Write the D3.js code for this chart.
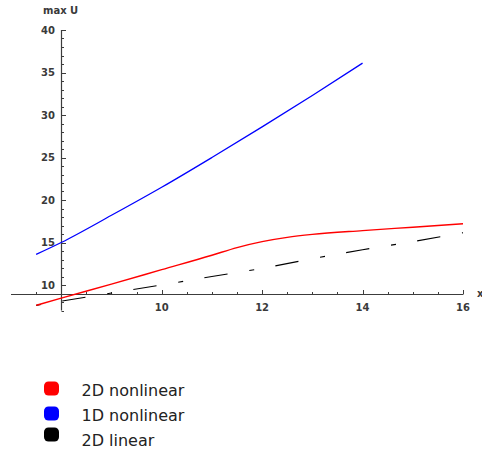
<!DOCTYPE html>
<html>
<head>
<meta charset="utf-8">
<script src="https://cdn.jsdelivr.net/npm/d3@7"></script>
<style>
  html, body { margin: 0; padding: 0; background: #fff; overflow: hidden; }
  svg { display: block; }
  .tick-label { font-family: "DejaVu Sans", sans-serif; font-weight: bold; font-size: 10px; fill: #3a3a3a; }
  .legend-label { font-family: "DejaVu Sans", sans-serif; font-size: 16px; fill: #222; }
</style>
</head>
<body>
<script>
// Series: maximum of U against x
const xNonlinear2D = [7.5, 8, 9, 10, 11, 11.5, 12, 12.5, 13, 14, 15, 16];
const uNonlinear2D = [7.6, 8.45, 10.1, 11.8, 13.5, 14.4, 15.1, 15.6, 15.95, 16.4, 16.8, 17.2];

const xNonlinear1D = [7.5, 8, 9, 10, 11, 12, 13, 14];
const uNonlinear1D = [13.6, 15.0, 18.2, 21.5, 25.0, 28.6, 32.3, 36.1];

const xLinear2D = [7.5, 8, 9, 10, 11, 12, 13, 14, 15, 16];
const uLinear2D = [7.6, 8.1, 9.05, 10.0, 11.0, 11.95, 13.1, 14.15, 15.1, 16.15];

// Axis ticks
const xTickLabels = [10, 12, 14, 16];
const yTickLabels = [10, 15, 20, 25, 30, 35, 40];

const legendNames = ["2D nonlinear", "1D nonlinear", "2D linear"];
const legendColors = ["#ff0000", "#0000ff", "#000000"];

const W = 482, H = 453;
const svg = d3.select("body").append("svg").attr("width", W).attr("height", H);

const x = d3.scaleLinear().domain([7, 16]).range([11, 463]);
const y = d3.scaleLinear().domain([7, 40]).range([310.5, 30]);

const axisX = 8, axisY = 9;
const axisColor = "#3c3c3c";

// x axis line
svg.append("line")
  .attr("x1", x(7)).attr("x2", x(16))
  .attr("y1", Math.round(y(axisY)) + 0.5).attr("y2", Math.round(y(axisY)) + 0.5)
  .attr("stroke", axisColor).attr("stroke-width", 1.2);

// y axis line
svg.append("line")
  .attr("x1", Math.round(x(axisX)) + 0.5).attr("x2", Math.round(x(axisX)) + 0.5)
  .attr("y1", y(7)).attr("y2", y(40))
  .attr("stroke", axisColor).attr("stroke-width", 1.2);

// x ticks (pointing up into the plot)
const xAxisPix = Math.round(y(axisY)) + 0.5;
d3.range(7.5, 16.01, 0.5).forEach(v => {
  if (Math.abs(v - axisX) < 1e-9) return;
  const major = Math.abs(v % 2) < 1e-9;
  const px = Math.round(x(v)) + 0.5;
  svg.append("line")
    .attr("x1", px).attr("x2", px)
    .attr("y1", xAxisPix).attr("y2", xAxisPix - (major ? 4.5 : 2.5))
    .attr("stroke", axisColor).attr("stroke-width", 1);
});
svg.selectAll("text.xl").data(xTickLabels).enter().append("text")
  .attr("class", "tick-label")
  .attr("x", d => x(d)).attr("y", 311)
  .attr("text-anchor", "middle")
  .text(d => d);

// y ticks (pointing right into the plot)
const yAxisPix = Math.round(x(axisX)) + 0.5;
d3.range(7, 40.01, 1).forEach(v => {
  if (Math.abs(v - axisY) < 1e-9) return;
  const major = v % 5 === 0;
  const py = Math.round(y(v)) + 0.5;
  svg.append("line")
    .attr("x1", yAxisPix).attr("x2", yAxisPix + (major ? 4.5 : 2.5))
    .attr("y1", py).attr("y2", py)
    .attr("stroke", axisColor).attr("stroke-width", 1);
});
svg.selectAll("text.yl").data(yTickLabels).enter().append("text")
  .attr("class", "tick-label")
  .attr("x", 55).attr("y", d => y(d))
  .attr("dy", "0.36em")
  .attr("text-anchor", "end")
  .text(d => d);

// axis titles
svg.append("text").attr("class", "tick-label")
  .attr("x", 43).attr("y", 13.5).text("max U");
svg.append("text").attr("class", "tick-label")
  .attr("x", 477).attr("y", 297).text("x");

// curves
const line = d3.line().x(d => x(d[0])).y(d => y(d[1]));
const zip = (a, b) => a.map((v, i) => [v, b[i]]);

svg.append("path")
  .datum(zip(xLinear2D, uLinear2D))
  .attr("d", line.curve(d3.curveLinear))
  .attr("fill", "none").attr("stroke", "#000").attr("stroke-width", 1.1)
  .attr("stroke-dasharray", "5,21.5,23.5,22");

svg.append("path")
  .datum(zip(xNonlinear2D, uNonlinear2D))
  .attr("d", line.curve(d3.curveMonotoneX))
  .attr("fill", "none").attr("stroke", "#ff0000").attr("stroke-width", 1.4);

svg.append("path")
  .datum(zip(xNonlinear1D, uNonlinear1D))
  .attr("d", line.curve(d3.curveMonotoneX))
  .attr("fill", "none").attr("stroke", "#0000ff").attr("stroke-width", 1.3);

// legend
const legendY = [388.5, 413.5, 434.5];
const lg = svg.selectAll("g.legend").data(legendNames).enter().append("g")
  .attr("transform", (d, i) => `translate(51.5,${legendY[i]})`);
lg.append("rect")
  .attr("x", -7.5).attr("y", -7).attr("width", 15).attr("height", 14)
  .attr("rx", 4.5).attr("ry", 4.5)
  .attr("fill", (d, i) => legendColors[i]);
lg.append("text")
  .attr("class", "legend-label")
  .attr("x", 30).attr("y", (d, i) => [7.5, 7.5, 11.5][i])
  .text(d => d);
</script>
</body>
</html>
